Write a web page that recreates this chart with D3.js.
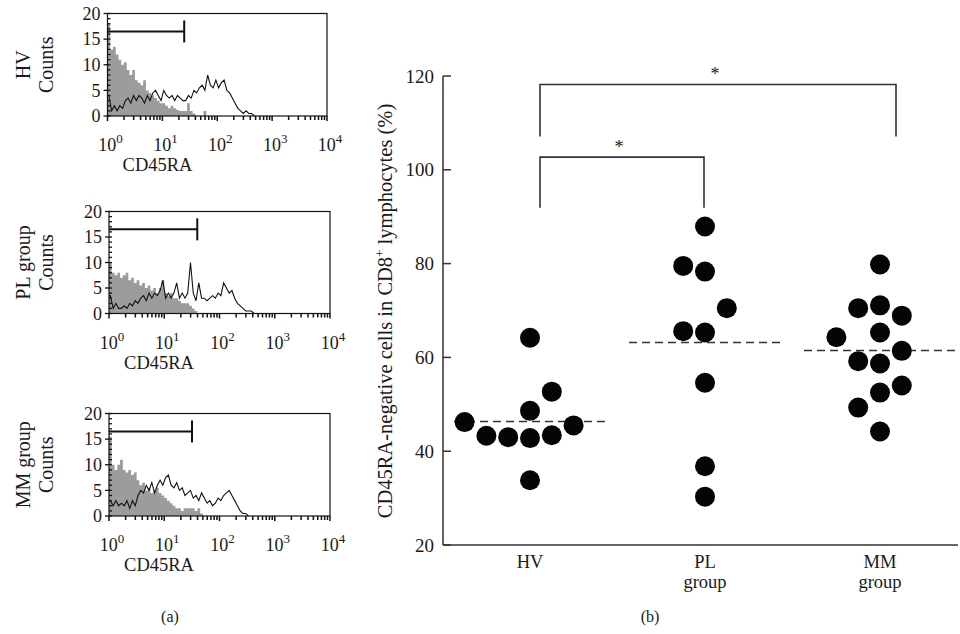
<!DOCTYPE html>
<html><head><meta charset="utf-8">
<script src="https://cdn.jsdelivr.net/npm/d3@7"></script>
<style>
body{margin:0;background:#fff}
svg{display:block}
text{font-family:"Liberation Serif","Times New Roman",serif;fill:#1a1a1a}
</style>
</head><body>
<svg id="c" width="960" height="634"></svg>
<script>
// ---------------- DATA ----------------
// (a) flow cytometry histograms, counts per 0.05-decade channel starting at 10^0
const histGroupNames = [["HV","Counts"],["PL group","Counts"],["MM group","Counts"]];
const binDecades = 0.05;
const hvIsotype  = [18,13,13.5,12,11,10,10.5,9,8,9,7,6.5,6,7,5,4.5,4,3.5,3,2.5,2.5,2,1.5,2,1.5,1.2,1,1,1,2.5,1,0.5,0,0,0,1,0];
const hvCD45RA   = [4,1,2,1,2,1.5,3,3.5,2.5,4,3,4,3.5,2.5,4,3,4.5,5,4,3,5,4,3.5,4,3,4,3.5,3,3,4,3.5,5,4.5,5.5,6,5,8,6,5.5,7,5.5,6.5,7,5,4.5,3.5,2.5,1.5,1,0.5,1,0.5,0.5,0];
const plIsotype  = [10,8,7.5,8,7,7.5,8,6.5,7,6,6.5,5.5,6,5,5.5,4.5,5,4,5,6.5,4,3.5,4,3,3,2.5,2,2,2,1.5,1,0.5,0];
const plCD45RA   = [3.5,1,2,1,1,1.5,1,2,1.5,2.5,2,3,3.5,2.5,4,3,4,3.5,4.5,6.5,3,4,3,4,6,3,4,3,4,10,4,2.5,6,3,3,2.5,3,3.5,3,4,3.5,6,5,4,4.5,3,2,1.5,1,0.5,0.5,0.5,0];
const mmIsotype  = [15.5,10,9,10,11,9,8.5,9,8,8.5,7,6,6.5,5,5.5,4.5,5,5.5,4.5,4,3.5,3,2.5,2,1.5,1.5,1,1.5,1.5,1.5,1.5,1,1.5,0.5,0];
const mmCD45RA   = [3,2,3,2,2.5,2,3,1.5,3,2,4,5,4.5,6,5,6.5,4.5,6,7,6,7.5,8,6,5.5,6.5,5,5.5,4,4.5,5,3.5,4,3,4.5,3.5,2.5,3,2,2.5,3.5,3,4,4.5,5,4,3,2,1,0.5,0.5,0];
const gateEnds   = [25, 39.6, 31.8];
const gateLevel  = 16.5;
const countTicks = [0,5,10,15,20];
const decadeTicks = [1,10,100,1000,10000];
const decadeExps  = ["0","1","2","3","4"];
const histXLabel = "CD45RA";

// (b) dot plot
const groups      = ["HV","PL","MM"];
const groupLines2 = ["","group","group"];
const hvValues = [64.2,52.7,48.6,46.2,43.3,43.0,42.8,43.4,45.5,33.8];
const hvSlots  = [0,1,0,-3,-2,-1,0,1,2,0];
const plValues = [87.9,79.5,78.3,70.5,65.6,65.3,54.6,36.8,30.3];
const plSlots  = [0,-1,0,1,-1,0,0,0,0];
const mmValues = [79.8,70.5,71.1,68.9,64.3,65.3,61.4,59.2,58.7,54.0,52.5,49.3,44.2];
const mmSlots  = [0,-1,0,1,-2,0,1,-1,0,1,0,-1,0];
const yTicksB  = [20,40,60,80,100,120];
const yTitleB  = "CD45RA-negative cells in CD8";
const sigPairs = [["HV","PL"],["HV","MM"]];
const sigTop   = [102.7, 118.2];
const sigLeg   = [91.9, 107.1];
const panelLabels = ["(a)","(b)"];

// ---------------- DRAW ----------------
const svg = d3.select("#c");

// ---- (a) histograms ----
const hPanels = [
  {iso: hvIsotype, cd: hvCD45RA, left:107.5, right:327, top:13.5, bottom:116},
  {iso: plIsotype, cd: plCD45RA, left:109, right:330, top:211.5, bottom:313.5},
  {iso: mmIsotype, cd: mmCD45RA, left:109, right:330, top:413.5, bottom:516}
];
hPanels.forEach((p, pi) => {
  const g = svg.append("g");
  const x = d3.scaleLog().domain([1,10000]).range([p.left, p.right]);
  const y = d3.scaleLinear().domain([0,20]).range([p.bottom, p.top]);
  const clipId = "clip" + pi;
  svg.append("clipPath").attr("id", clipId).append("rect")
    .attr("x", p.left).attr("y", p.top).attr("width", p.right - p.left).attr("height", p.bottom - p.top);
  const inner = g.append("g").attr("clip-path", `url(#${clipId})`);
  const isoPts = p.iso.map((v,i) => [Math.pow(10, i*binDecades), v]);
  isoPts.push([Math.pow(10, p.iso.length*binDecades), 0]);
  inner.append("path")
    .attr("d", d3.area().curve(d3.curveStepAfter).x(d => x(d[0])).y0(y(0)).y1(d => y(d[1]))(isoPts))
    .attr("fill", "#9c9c9c");
  const cdPts = p.cd.map((v,i) => [Math.pow(10, (i+0.5)*binDecades), v]);
  cdPts.unshift([1, p.cd[0]]);
  inner.append("path")
    .attr("d", d3.line().x(d => x(d[0])).y(d => y(d[1]))(cdPts))
    .attr("fill", "none").attr("stroke", "#111").attr("stroke-width", 1.1);
  // frame
  g.append("rect").attr("x", p.left).attr("y", p.top).attr("width", p.right - p.left).attr("height", p.bottom - p.top)
    .attr("fill", "none").attr("stroke", "#111").attr("stroke-width", 1.2);
  // left minor ticks
  d3.range(0, 21).forEach(c => {
    g.append("line").attr("x1", p.left).attr("x2", p.left + 3).attr("y1", y(c)).attr("y2", y(c))
      .attr("stroke", "#111").attr("stroke-width", 1.3);
  });
  countTicks.forEach(c => {
    g.append("line").attr("x1", p.left - 4).attr("x2", p.left).attr("y1", y(c)).attr("y2", y(c))
      .attr("stroke", "#111").attr("stroke-width", 1.3);
    g.append("text").attr("x", p.left - 7).attr("y", y(c)).attr("dy", "0.35em")
      .attr("text-anchor", "end").attr("font-size", 18).text(c);
  });
  // bottom log ticks
  for (let d = 0; d < 4; d++) {
    for (let k = 1; k <= 9; k++) {
      const v = k * Math.pow(10, d);
      g.append("line").attr("x1", x(v)).attr("x2", x(v)).attr("y1", p.bottom).attr("y2", p.bottom + (k === 1 ? 5 : 4))
        .attr("stroke", "#111").attr("stroke-width", 1.5);
    }
  }
  g.append("line").attr("x1", x(10000)).attr("x2", x(10000)).attr("y1", p.bottom).attr("y2", p.bottom + 5)
    .attr("stroke", "#111").attr("stroke-width", 1.5);
  decadeTicks.forEach((v, i) => {
    const t = g.append("text").attr("x", x(v) + 3).attr("y", p.bottom + 35).attr("text-anchor", "middle").attr("font-size", 18);
    t.append("tspan").text("10");
    t.append("tspan").attr("dy", -8).attr("font-size", 13).text(decadeExps[i]);
  });
  g.append("text").attr("x", p.left + 50).attr("y", p.bottom + 55).attr("text-anchor", "middle")
    .attr("font-size", 18.5).text(histXLabel);
  // gate
  const gy = y(gateLevel);
  g.append("line").attr("x1", p.left).attr("x2", x(gateEnds[pi])).attr("y1", gy).attr("y2", gy)
    .attr("stroke", "#111").attr("stroke-width", 2);
  g.append("line").attr("x1", x(gateEnds[pi])).attr("x2", x(gateEnds[pi])).attr("y1", gy - 11).attr("y2", gy + 11)
    .attr("stroke", "#111").attr("stroke-width", 2);
  // side labels
  const cy = (p.top + p.bottom) / 2;
  histGroupNames[pi].forEach((lab, li) => {
    const bx = li === 0 ? 30 : 53;
    g.append("text").attr("transform", `translate(${bx},${cy}) rotate(-90)`)
      .attr("text-anchor", "middle").attr("font-size", 20).text(lab);
  });
});

// ---- (b) dot plot ----
const xB = d3.scalePoint().domain(groups).range([530, 880]);
const yB = d3.scaleLinear().domain([20, 120]).range([545, 76]);
const b = svg.append("g");
const AX = "#333";
b.append("line").attr("x1", 443).attr("x2", 443).attr("y1", yB(120)).attr("y2", yB(20)).attr("stroke", AX).attr("stroke-width", 1.5);
b.append("line").attr("x1", 443).attr("x2", 958).attr("y1", yB(20)).attr("y2", yB(20)).attr("stroke", AX).attr("stroke-width", 1.5);
yTicksB.forEach(v => {
  b.append("line").attr("x1", 443).attr("x2", 451).attr("y1", yB(v)).attr("y2", yB(v)).attr("stroke", AX).attr("stroke-width", 1.5);
  b.append("text").attr("x", 434).attr("y", yB(v)).attr("dy", "0.35em").attr("text-anchor", "end").attr("font-size", 19).text(v);
});
const yt = b.append("text").attr("transform", `translate(392,311) rotate(-90)`)
  .attr("text-anchor", "middle").attr("font-size", 20.5);
yt.append("tspan").text(yTitleB);
yt.append("tspan").attr("dy", -8).attr("font-size", 13).text("+");
yt.append("tspan").attr("dy", 8).text(" lymphocytes (%)");

groups.forEach((gname, gi) => {
  b.append("text").attr("x", xB(gname)).attr("y", 568).attr("text-anchor", "middle").attr("font-size", 18.5).text(gname);
  if (groupLines2[gi]) b.append("text").attr("x", xB(gname)).attr("y", 588).attr("text-anchor", "middle").attr("font-size", 18.5).text(groupLines2[gi]);
});

const R = 10, slotW = 21.8;
const dotSets = [[hvValues, hvSlots], [plValues, plSlots], [mmValues, mmSlots]];
dotSets.forEach(([vals, slots], gi) => {
  const cx = xB(groups[gi]);
  const mean = d3.mean(vals);
  b.append("line").attr("x1", cx - 76).attr("x2", cx + 78).attr("y1", yB(mean)).attr("y2", yB(mean))
    .attr("stroke", AX).attr("stroke-width", 1.5).attr("stroke-dasharray", "8,5");
  b.selectAll(null).data(vals).enter().append("circle")
    .attr("cx", (d, i) => cx + slots[i] * slotW).attr("cy", d => yB(d)).attr("r", R).attr("fill", "#050505");
});

// significance brackets
const legShift = {HV: 10, PL: -1, MM: 16};
sigPairs.forEach(([a, c], i) => {
  const x1 = xB(a) + legShift[a], x2 = xB(c) + legShift[c];
  const yt2 = yB(sigTop[i]), yl = yB(sigLeg[i]);
  b.append("path").attr("d", `M${x1},${yl}V${yt2}H${x2}V${yl}`).attr("fill", "none").attr("stroke", AX).attr("stroke-width", 1.6);
  b.append("text").attr("x", (x1 + x2) / 2 - 3).attr("y", yt2 - 4).attr("text-anchor", "middle").attr("font-size", 18).text("*");
});

// panel labels
svg.append("text").attr("x", 170).attr("y", 622).attr("text-anchor", "middle").attr("font-size", 16).text(panelLabels[0]);
svg.append("text").attr("x", 650).attr("y", 622).attr("text-anchor", "middle").attr("font-size", 16).text(panelLabels[1]);
</script>
</body></html>
